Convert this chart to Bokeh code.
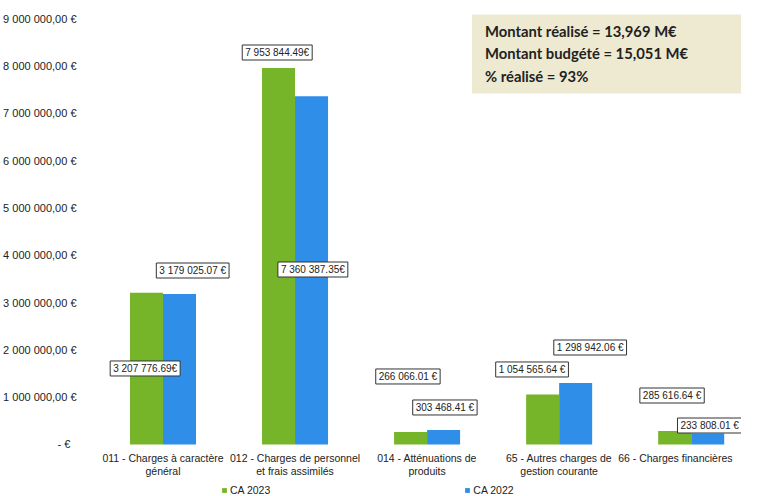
from bokeh.plotting import figure
from bokeh.models import ColumnDataSource, FixedTicker, Legend, LegendItem, Label
from bokeh.core.properties import value
from bokeh.embed import file_html
from bokeh.resources import INLINE

# ---- data ----
categories = [
    "011 - Charges à caractère\ngénéral",
    "012 - Charges de personnel\net frais assimilés",
    "014 - Atténuations de\nproduits",
    "65 - Autres charges de\ngestion courante",
    "66 - Charges financières",
]
ca_2023 = [3207776.69, 7953844.49, 266066.01, 1054565.64, 285616.64]
ca_2022 = [3179025.07, 7360387.35, 303468.41, 1298942.06, 233808.01]
labels_2023 = ["3 207 776.69€", "7 953 844.49€", "266 066.01 €", "1 054 565.64 €", "285 616.64 €"]
labels_2022 = ["3 179 025.07 €", "7 360 387.35€", "303 468.41 €", "1 298 942.06 €", "233 808.01 €"]
y_ticks = [0, 1e6, 2e6, 3e6, 4e6, 5e6, 6e6, 7e6, 8e6, 9e6]
y_tick_labels = ["-   €", "1 000 000,00 €", "2 000 000,00 €", "3 000 000,00 €", "4 000 000,00 €",
                 "5 000 000,00 €", "6 000 000,00 €", "7 000 000,00 €", "8 000 000,00 €", "9 000 000,00 €"]
info_text = "Montant réalisé = 13,969 M€\nMontant budgété = 15,051 M€\n% réalisé = 93%"

# ---- label placement (layout, not data) ----
label_dx_2023 = [-0.01, -0.01, -0.02, -0.08, -0.02]
label_dx_2022 = [0.10, 0.01, 0.01, 0.11, 0.015]
label_y_2023 = [1.606e6, 8.282e6, 1.437e6, 1.585e6, 1.035e6]
label_y_2022 = [3.676e6, 3.697e6, 0.782e6, 2.049e6, 0.401e6]
cat_label_dx = [0, 0, 0, 0, -0.12]

GREEN = "#76B52A"
BLUE = "#2F8EE8"
W = 0.25

xs = list(range(len(categories)))
x23 = [x - W / 2 for x in xs]
x22 = [x + W / 2 for x in xs]

p = figure(width=741, height=496, output_backend="svg", toolbar_location=None,
           x_range=(-0.564, 4.381), y_range=(-1.099e6, 9.381e6),
           x_axis_location=None, min_border_top=0, min_border_bottom=0,
           min_border_right=0, min_border_left=0)
p.outline_line_color = None
p.xgrid.visible = False
p.ygrid.visible = False
p.background_fill_color = "white"

yax = p.yaxis[0]
yax.ticker = FixedTicker(ticks=y_ticks)
yax.major_label_overrides = {t: l for t, l in zip(y_ticks, y_tick_labels)}
yax.axis_line_color = None
yax.major_tick_line_color = None
yax.minor_tick_line_color = None
yax.major_label_text_font = "Liberation Sans"
yax.major_label_text_font_size = "11px"
yax.major_label_text_color = "#222222"
yax.major_label_standoff = 6

src = ColumnDataSource(dict(x23=x23, x22=x22, v23=ca_2023, v22=ca_2022))
r23 = p.vbar(x="x23", top="v23", width=W, source=src, fill_color=GREEN, line_color=None)
r22 = p.vbar(x="x22", top="v22", width=W, source=src, fill_color=BLUE, line_color=None)

# category labels
p.text(x=[x + d for x, d in zip(xs, cat_label_dx)], y=[-0.15e6] * len(xs), text=categories,
       text_align="center", text_baseline="top",
       text_font=value("Liberation Sans"), text_font_size="10.5px", text_color="#222222",
       text_line_height=1.15)

# value labels
lab_src = ColumnDataSource(dict(
    x=[a + d for a, d in zip(x23, label_dx_2023)] + [a + d for a, d in zip(x22, label_dx_2022)],
    y=label_y_2023 + label_y_2022,
    t=labels_2023 + labels_2022,
))
p.text(x="x", y="y", text="t", source=lab_src, text_align="center", text_baseline="middle",
       text_font=value("Liberation Sans"), text_font_size="10px", text_color="#222222",
       background_fill_color="white", border_line_color="#333333", border_line_width=1,
       padding=(3, 2))

# info box
info = Label(x=2.34, y=9.085e6, text=info_text, text_align="left", text_baseline="top",
             text_font="Lato", text_font_style="bold", text_font_size="14.8px",
             text_color="#222222", text_line_height=1.25,
             background_fill_color="#EEEAD2",
             padding=dict(left=13, right=58, top=7, bottom=9))
p.add_layout(info)

legend = Legend(items=[LegendItem(label="CA 2023", renderers=[r23]),
                       LegendItem(label="CA 2022", renderers=[r22])],
                orientation="horizontal", location=(133, 0), spacing=194,
                glyph_width=6, glyph_height=6, label_standoff=3, padding=0, margin=0,
                label_text_font="Liberation Sans", label_text_font_size="10.5px",
                label_text_color="#222222", background_fill_alpha=0, border_line_color=None)
p.add_layout(legend)

open("out.html", "w").write(file_html(p, INLINE))
